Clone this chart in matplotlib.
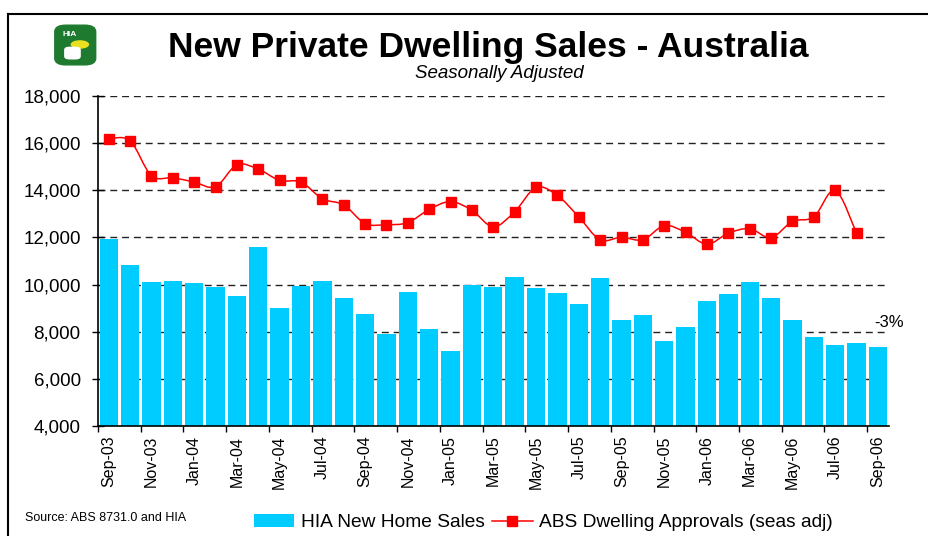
#!/usr/bin/env python3
import numpy as np
import pandas as pd
import matplotlib
matplotlib.use('Agg')
from matplotlib import pyplot as plt
from matplotlib.path import Path
from matplotlib.patches import PathPatch, FancyBboxPatch, Patch, Ellipse
from matplotlib.lines import Line2D

plt.rcParams['font.family'] = ['Liberation Sans', 'DejaVu Sans']

# data (monthly, Sep-03 .. Sep-06)
months = pd.date_range('2003-09-01', periods=37, freq='MS').strftime('%b-%y').tolist()
hia_sales = [11950, 10850, 10120, 10160, 10080, 9910, 9530, 11600, 9020, 9950,
             10160, 9440, 8760, 7920, 9700, 8130, 7200, 9990, 9910, 10330,
             9860, 9650, 9190, 10290, 8510, 8720, 7620, 8220, 9310, 9610,
             10120, 9440, 8510, 7790, 7450, 7540, 7370]
abs_approvals = [16180, 16100, 14620, 14530, 14350, 14150, 15080, 14900, 14420, 14350,
                 13640, 13380, 12590, 12540, 12630, 13190, 13520, 13150, 12450, 13090,
                 14120, 13780, 12870, 11900, 12010, 11900, 12500, 12220, 11710, 12180,
                 12370, 11990, 12680, 12870, 14000, 12180]
yticks = [4000, 6000, 8000, 10000, 12000, 14000, 16000, 18000]

cyan = '#00CCFF'
red = '#FF0000'

fig = plt.figure(figsize=(9.29, 5.36), dpi=100)
ax = fig.add_axes([0.1055, 0.2052, 0.851, 0.6157])

x = np.arange(len(months))
ax.bar(x, hia_sales, width=0.86, color=cyan, zorder=2)

# smoothed line (catmull-rom as bezier) through the approvals points
xa = np.arange(len(abs_approvals))
ya = np.array(abs_approvals, dtype=float)
verts = [(xa[0], ya[0])]
codes = [Path.MOVETO]
n = len(xa)
for i in range(n - 1):
    p0 = np.array([xa[max(i - 1, 0)], ya[max(i - 1, 0)]])
    p1 = np.array([xa[i], ya[i]])
    p2 = np.array([xa[i + 1], ya[i + 1]])
    p3 = np.array([xa[min(i + 2, n - 1)], ya[min(i + 2, n - 1)]])
    c1 = p1 + (p2 - p0) / 6
    c2 = p2 - (p3 - p1) / 6
    verts += [tuple(c1), tuple(c2), tuple(p2)]
    codes += [Path.CURVE4] * 3
ax.add_patch(PathPatch(Path(verts, codes), fill=False, edgecolor=red, lw=1.1, zorder=3))
ax.plot(xa, ya, linestyle='none', marker='s', markersize=6.8, color=red, zorder=4)

# axes
ax.set_xlim(-0.5, len(months) - 0.5)
ax.set_ylim(4000, 18000)
ax.set_yticks(yticks)
ax.set_yticklabels([f'{v:,}' for v in yticks], fontsize=13.5)
ax.tick_params(axis='y', direction='inout', length=9, width=1, pad=8)

ax.set_xticks(x[::2])
ax.set_xticklabels(months[::2], rotation=90, fontsize=11.5)
ax.tick_params(axis='x', which='major', length=0, pad=7)
ax.set_xticks(np.arange(-0.5, len(months) - 1, 2), minor=True)
ax.tick_params(axis='x', which='minor', direction='out', length=4, width=1)

for s in ['top', 'right']:
    ax.spines[s].set_visible(False)
ax.spines['left'].set_linewidth(1.2)
ax.spines['bottom'].set_linewidth(1.2)
ax.spines['left'].set_zorder(5)
ax.spines['bottom'].set_zorder(5)

plt.rcParams['lines.scale_dashes'] = False
ax.grid(axis='y', color='#222222', linestyle=(0, (5, 3.5)), linewidth=1.0, zorder=1)
ax.set_axisbelow(True)

ax.text(1.019, 0.315, '-3%', transform=ax.transAxes, fontsize=12, ha='right', va='center')

# titles
fig.text(0.526, 0.912, 'New Private Dwelling Sales - Australia', ha='center', va='center',
         fontsize=25.5, fontweight='bold')
fig.text(0.538, 0.862, 'Seasonally Adjusted', ha='center', va='center',
         fontsize=13.5, style='italic')

# logo
fig.patches.append(FancyBboxPatch((0.062, 0.882), 0.038, 0.068, boxstyle='round,pad=0.003,rounding_size=0.012',
                                  transform=fig.transFigure, facecolor='#1E7A2E', edgecolor='#1E7A2E'))
fig.patches.append(Ellipse((0.086, 0.917), 0.02, 0.016, transform=fig.transFigure,
                           facecolor='#E8E020', edgecolor='none'))
fig.text(0.075, 0.936, 'HIA', ha='center', va='center', fontsize=6, fontweight='bold', color='white')
fig.patches.append(FancyBboxPatch((0.070, 0.890), 0.016, 0.022, boxstyle='round,pad=0.001,rounding_size=0.006',
                                  transform=fig.transFigure, facecolor='white', edgecolor='none'))

# border
fig.add_artist(Line2D([8 / 929, 1.0], [1 - 14 / 536, 1 - 14 / 536], transform=fig.transFigure,
                      color='black', lw=1.5))
fig.add_artist(Line2D([8 / 929, 8 / 929], [0, 1 - 14 / 536], transform=fig.transFigure,
                      color='black', lw=1.5))

fig.text(0.027, 0.033, 'Source: ABS 8731.0 and HIA', fontsize=9, ha='left', va='center')

handles = [Patch(facecolor=cyan, edgecolor='none'),
           Line2D([], [], color=red, lw=1.1, marker='s', markersize=6.5)]
fig.legend(handles, ['HIA New Home Sales', 'ABS Dwelling Approvals (seas adj)'],
           loc='center', bbox_to_anchor=(0.585, 0.025), ncol=2, frameon=False,
           fontsize=13.8, handlelength=2.1, handleheight=0.7, handletextpad=0.35, columnspacing=0.4)

plt.savefig('out.png', dpi=100)
